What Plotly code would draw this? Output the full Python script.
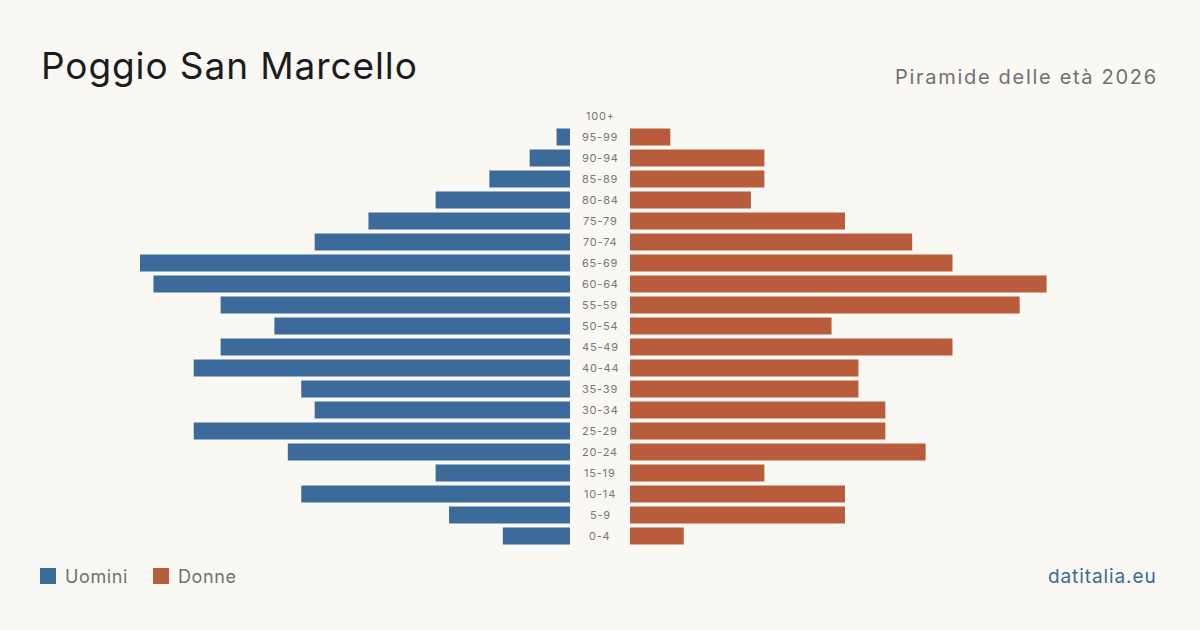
import plotly.graph_objects as go

age_groups = ["0-4", "5-9", "10-14", "15-19", "20-24", "25-29", "30-34", "35-39",
              "40-44", "45-49", "50-54", "55-59", "60-64", "65-69", "70-74",
              "75-79", "80-84", "85-89", "90-94", "95-99", "100+"]
men = [5, 9, 20, 10, 21, 28, 19, 20, 28, 26, 22, 26, 31, 32, 19, 15, 10, 6, 3, 1, 0]
women = [4, 16, 16, 10, 22, 19, 19, 17, 17, 24, 15, 29, 31, 24, 21, 16, 9, 10, 10, 3, 0]

BLUE = "#3b6a9b"
ORANGE = "#b95c3c"
BG = "#f9f8f3"
FONT = "Inter"

W, H = 1200, 630
def px_x(p):
    return p / W
def px_y(p):
    return 1 - p / H

def ls(text, spacing):
    return f'<span style="letter-spacing:{spacing}px">{text}</span>'

fig = go.Figure()
fig.add_trace(go.Bar(y=age_groups, x=men, orientation="h", marker_color=BLUE,
                     marker_line_width=0,
                     xaxis="x", yaxis="y", name="Uomini", hoverinfo="x+y"))
fig.add_trace(go.Bar(y=age_groups, x=women, orientation="h", marker_color=ORANGE,
                     marker_line_width=0,
                     xaxis="x2", yaxis="y", name="Donne", hoverinfo="x+y"))

annotations = []
for g in age_groups:
    annotations.append(dict(x=0.5, xref="paper", y=g, yref="y", text=ls(g, 0.8), showarrow=False,
                            font=dict(family=FONT, size=11, color="#777777"),
                            xanchor="center", yanchor="middle"))

annotations += [
    dict(x=px_x(39), y=px_y(66), xref="paper", yref="paper", text=ls("Poggio San Marcello", 0.9),
         showarrow=False, xanchor="left", yanchor="middle",
         font=dict(family=FONT, size=37, color="#1c1c1c")),
    dict(x=px_x(1160), y=px_y(77), xref="paper", yref="paper", text=ls("Piramide delle età 2026", 1.7),
         showarrow=False, xanchor="right", yanchor="middle",
         font=dict(family=FONT, size=20, color="#707070")),
    dict(x=px_x(63), y=px_y(576), xref="paper", yref="paper", text=ls("Uomini", 0.6),
         showarrow=False, xanchor="left", yanchor="middle",
         font=dict(family=FONT, size=18, color="#707070")),
    dict(x=px_x(176), y=px_y(576), xref="paper", yref="paper", text=ls("Donne", 0.6),
         showarrow=False, xanchor="left", yanchor="middle",
         font=dict(family=FONT, size=18, color="#707070")),
    dict(x=px_x(1159), y=px_y(576), xref="paper", yref="paper", text=ls("datitalia.eu", 0.9),
         showarrow=False, xanchor="right", yanchor="middle",
         font=dict(family=FONT, size=19, color=BLUE)),
]

shapes = [
    dict(type="rect", xref="paper", yref="paper", x0=px_x(40), x1=px_x(56),
         y0=px_y(584), y1=px_y(568), fillcolor=BLUE, line=dict(width=0)),
    dict(type="rect", xref="paper", yref="paper", x0=px_x(153), x1=px_x(169),
         y0=px_y(584), y1=px_y(568), fillcolor=ORANGE, line=dict(width=0)),
]

fig.update_layout(
    width=W, height=H,
    margin=dict(l=0, r=0, t=0, b=0),
    paper_bgcolor=BG, plot_bgcolor=BG,
    showlegend=False,
    bargap=4 / 21,
    xaxis=dict(domain=[px_x(140), px_x(570)], range=[32, 0], visible=False, fixedrange=True),
    xaxis2=dict(domain=[px_x(630), px_x(1060)], range=[0, 32], visible=False, fixedrange=True),
    yaxis=dict(domain=[px_y(546.5), px_y(105.5)], range=[-0.5, 20.5], visible=False,
               categoryorder="array", categoryarray=age_groups, fixedrange=True),
    annotations=annotations,
    shapes=shapes,
)

fig.write_html("out.html")
